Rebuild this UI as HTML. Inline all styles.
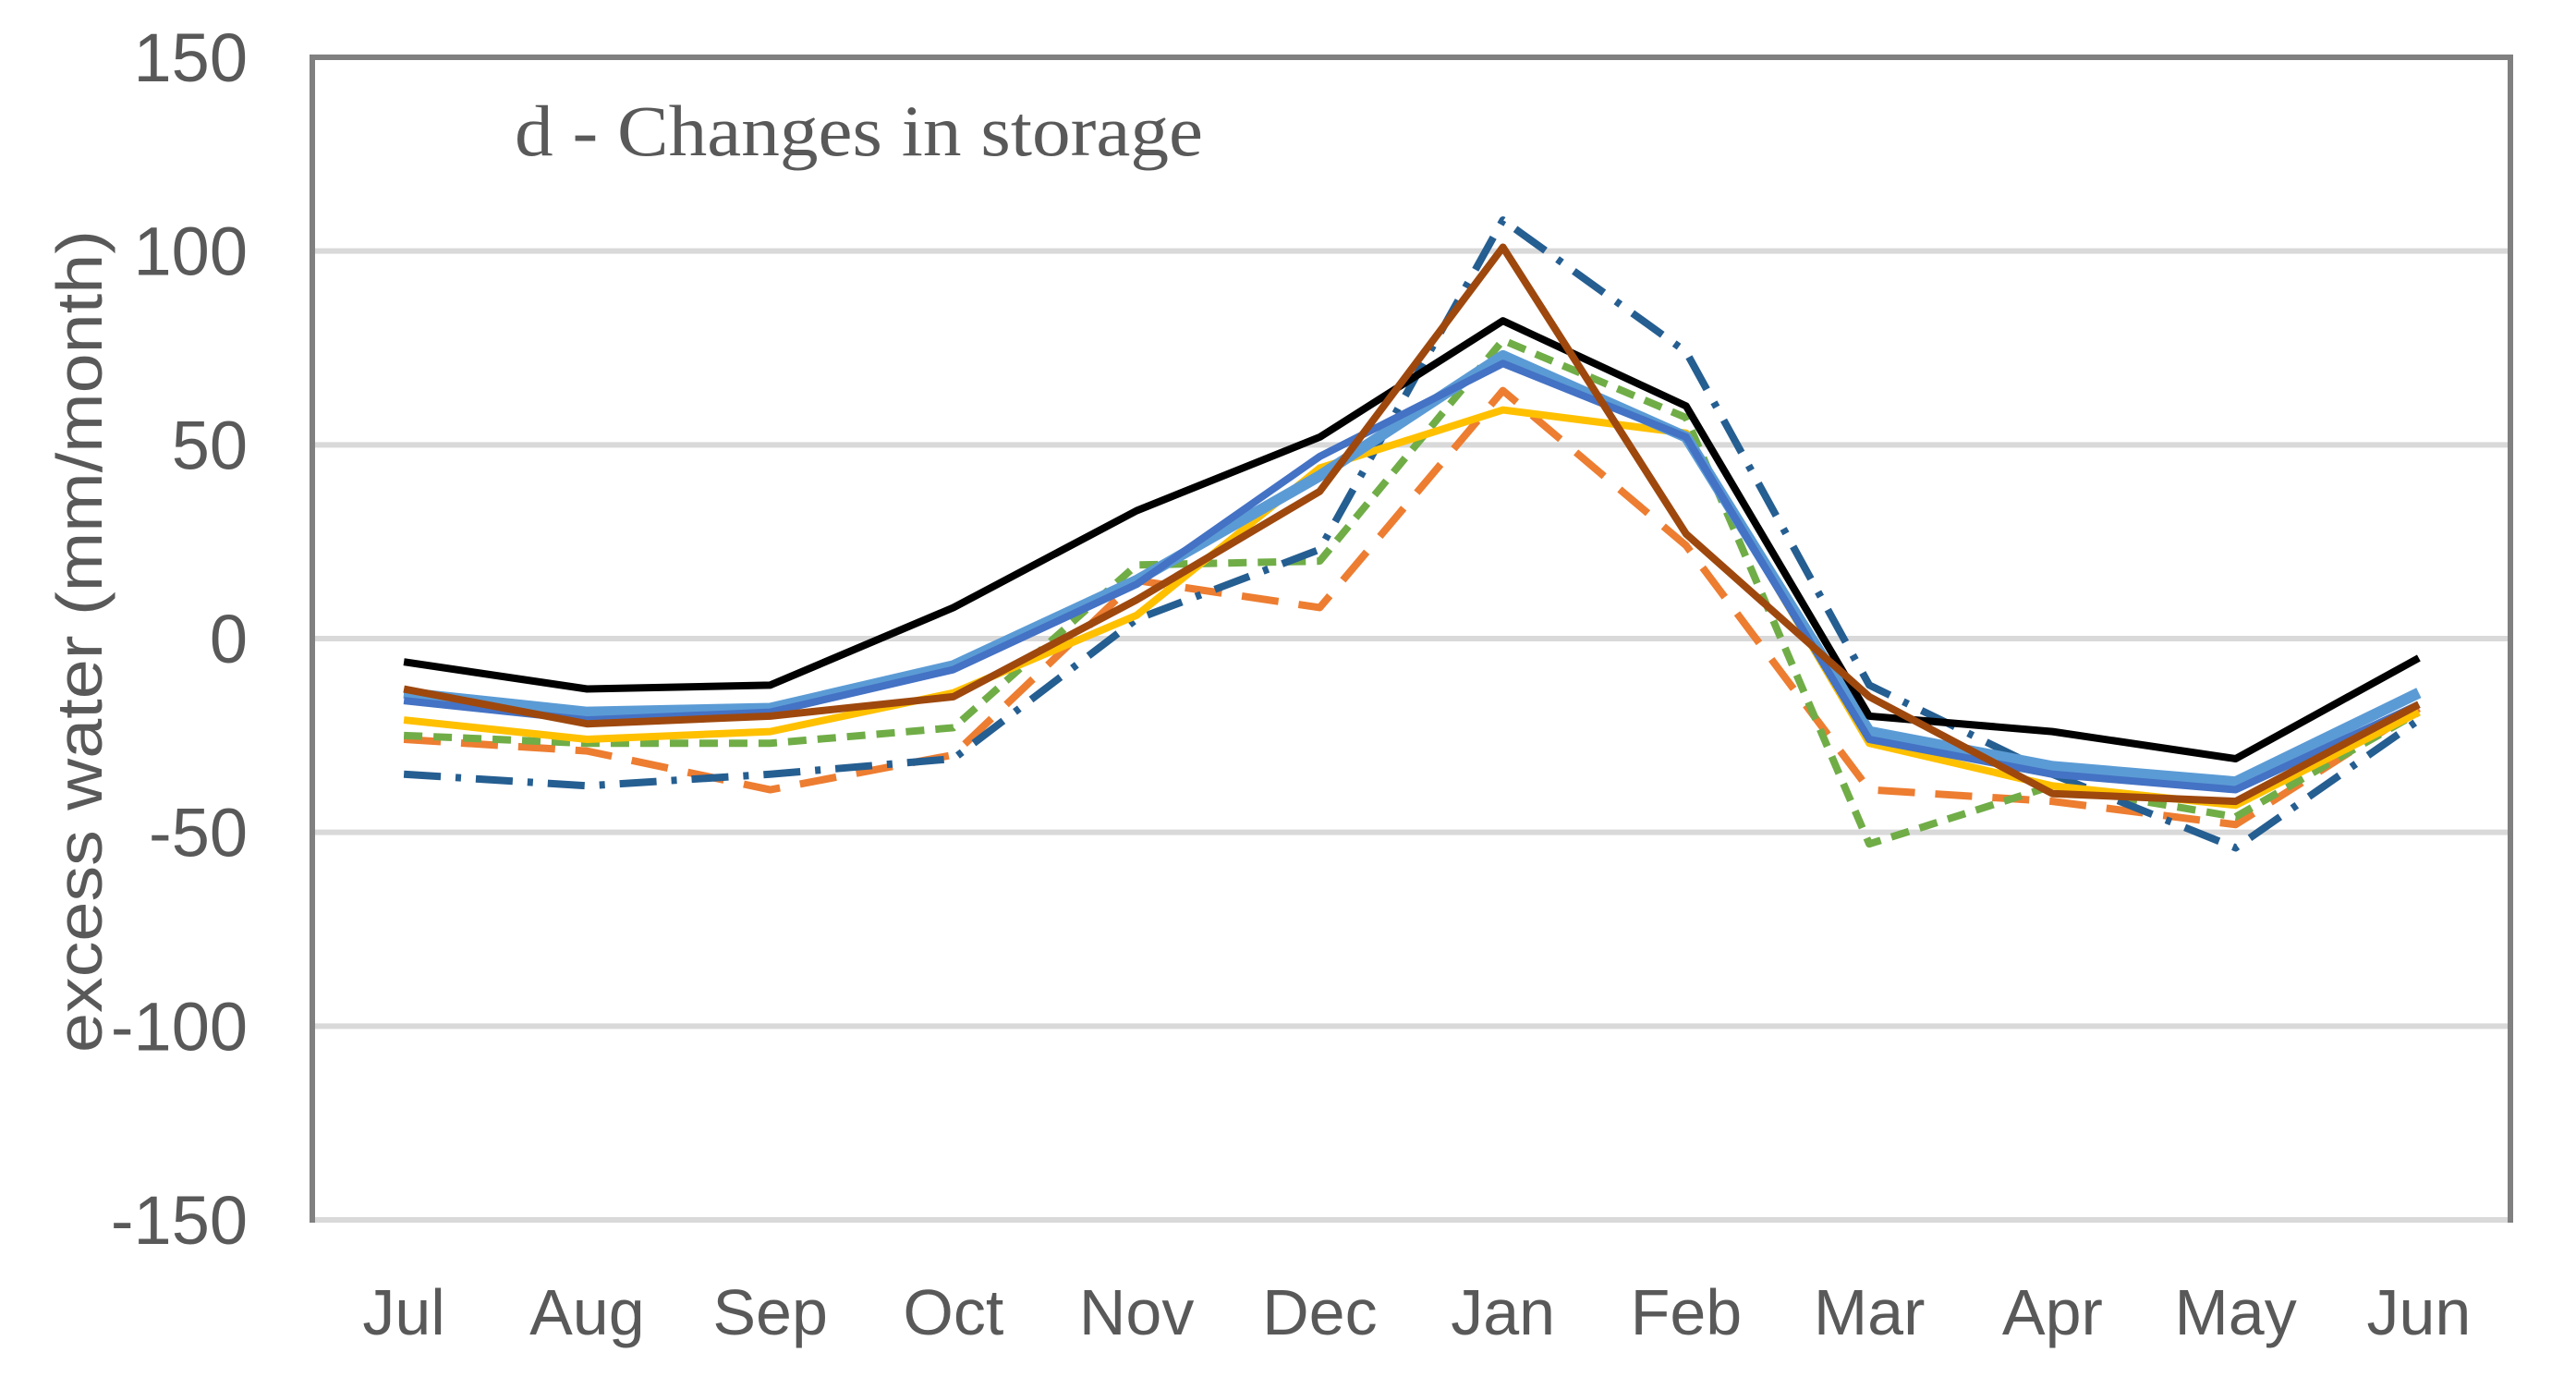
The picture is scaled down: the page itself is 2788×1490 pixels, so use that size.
<!DOCTYPE html>
<html><head><meta charset="utf-8"><style>html,body{margin:0;padding:0;background:#fff}svg{display:block}</style></head>
<body>
<svg id="chart" width="2788" height="1490" viewBox="0 0 2788 1490" xmlns="http://www.w3.org/2000/svg">
<rect x="0" y="0" width="2788" height="1490" fill="#fff"/>
<g id="grid"></g>
<g id="series"></g>
<g id="frame"></g>
<g id="yticks"></g>
<g id="xticks"></g>
<text x="557" y="168" font-family="Liberation Serif, serif" font-size="78" fill="#595959" textLength="745" lengthAdjust="spacingAndGlyphs">d - Changes in storage</text>
<text transform="translate(110,694) rotate(-90)" text-anchor="middle" font-family="Liberation Sans, sans-serif" font-size="70" fill="#595959" textLength="890" lengthAdjust="spacingAndGlyphs">excess water (mm/month)</text>
</svg>
<script>
const months = ["Jul","Aug","Sep","Oct","Nov","Dec","Jan","Feb","Mar","Apr","May","Jun"];
const yTicks = [150,100,50,0,-50,-100,-150];
const sBlack = [-6,-13,-12,8,33,52,82,60,-20,-24,-31,-5];
const sLightBlue = [-14,-19,-18,-7,15,42,73,52,-24,-33,-37,-14];
const sBlue = [-16,-21,-19,-8,14,47,71,52,-26,-35,-39,-17];
const sYellow = [-21,-26,-24,-14,6,44,59,53,-27,-38,-43,-19];
const sGreen = [-25,-27,-27,-23,19,20,77,57,-53,-38,-46,-19];
const sOrange = [-26,-29,-39,-30,15,8,64,24,-39,-42,-48,-18];
const sDarkBlue = [-35,-38,-35,-31,5,23,108,74,-12,-35,-54,-21];
const sBrown = [-13,-22,-20,-15,10,38,101,27,-15,-40,-42,-17];

const NS="http://www.w3.org/2000/svg";
const L=338,R=2717,T=62,B=1320,yMin=-150,yMax=150;
const band=(R-L)/months.length;
function xs(i){return L+band*(i+0.5);}
function ys(v){return B-(v-yMin)/(yMax-yMin)*(B-T);}
function mk(tag,attrs,parent){const e=document.createElementNS(NS,tag);for(const k in attrs)e.setAttribute(k,attrs[k]);parent.appendChild(e);return e;}
const grid=document.getElementById('grid'),yt=document.getElementById('yticks'),xt=document.getElementById('xticks'),ser=document.getElementById('series'),fr=document.getElementById('frame');
yTicks.forEach(v=>{
  const g=mk('line',{x1:L,x2:R,y1:ys(v),y2:ys(v),stroke:'#d9d9d9','stroke-width':6},grid);
  
  
  const t=mk('text',{x:268,y:ys(v)+26,'text-anchor':'end','font-family':'Liberation Sans, sans-serif','font-size':74,fill:'#595959'},yt);
  t.textContent=v;
  
  
});
months.forEach((m,i)=>{
  const t=mk('text',{x:xs(i),y:1444,'text-anchor':'middle','font-family':'Liberation Sans, sans-serif','font-size':70,fill:'#595959'},xt);
  t.textContent=m;
  
  
});
const fp=mk('path',{d:`M${L},${B+3} L${L},${T} L${R},${T} L${R},${B+3}`,fill:'none',stroke:'#808080','stroke-width':6},fr);


const defs=[
 [sOrange,'#ED7D31',8,'40 22','series-orange-dashed'],
 [sGreen,'#70AD47',8,'20 12','series-green-dashed'],
 [sDarkBlue,'#255E91',8,'40 16 6 16','series-darkblue-dashdot'],
 [sYellow,'#FFC000',8,null,'series-yellow'],
 [sLightBlue,'#5B9BD5',12,null,'series-lightblue'],
 [sBlue,'#4472C4',8,null,'series-blue'],
 [sBlack,'#000000',8,null,'series-black'],
 [sBrown,'#9E480E',8,null,'series-brown']
];
defs.forEach(([d,c,w,dash,name])=>{
  const p=mk('polyline',{points:d.map((v,i)=>xs(i)+','+ys(v)).join(' '),fill:'none',stroke:c,'stroke-width':w,'stroke-linejoin':'round'},ser);
  if(dash)p.setAttribute('stroke-dasharray',dash);
  
  
});
</script>
</body></html>
